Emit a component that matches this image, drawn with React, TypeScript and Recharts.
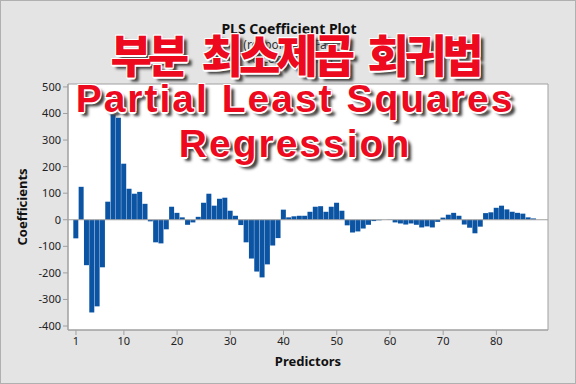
import { BarChart, Bar, XAxis, YAxis, CartesianGrid, ReferenceLine, ReferenceArea } from 'recharts'

// predictor index and PLS coefficients
const predictors = [
  1, 2, 3, 4, 5, 6, 7, 8, 9, 10, 11, 12, 13, 14, 15, 16, 17, 18, 19, 20,
  21, 22, 23, 24, 25, 26, 27, 28, 29, 30, 31, 32, 33, 34, 35, 36, 37, 38, 39, 40,
  41, 42, 43, 44, 45, 46, 47, 48, 49, 50, 51, 52, 53, 54, 55, 56, 57, 58, 59, 60,
  61, 62, 63, 64, 65, 66, 67, 68, 69, 70, 71, 72, 73, 74, 75, 76, 77, 78, 79, 80,
  81, 82, 83, 84, 85, 86, 87,
]
const coefficients = [
  -70, 124, -171, -349, -326, -179, 68, 396, 384, 211, 117, 98, 105, 60, -6, -85, -89, -36, 49, 26,
  9, -19, -10, 11, 64, 98, 53, 79, 83, 34, 15, -20, -85, -146, -195, -217, -168, -97, -69, 38,
  9, 13, 15, 15, 30, 49, 51, 30, 49, 64, 34, -21, -48, -44, -33, -19, -5, -2, 0, -1,
  -10, -14, -18, -14, -19, -29, -25, -29, -8, 8, 19, 26, 15, -18, -30, -51, -26, 25, 28, 45,
  53, 39, 30, 26, 23, 9, 5,
]
const xTicks = [1, 10, 20, 30, 40, 50, 60, 70, 80]
const yTicks = [-400, -300, -200, -100, 0, 100, 200, 300, 400, 500]

const table = predictors.map((p, i) => ({ p, coef: coefficients[i] }))

const X_DOMAIN: [number, number] = [-0.5, 89.7]
const Y_DOMAIN: [number, number] = [-415, 511]

const overlay: React.CSSProperties = {
  position: 'absolute', left: 0, width: 588, textAlign: 'center', whiteSpace: 'nowrap',
  color: '#ee0a1e', fontWeight: 'bold', lineHeight: 1,
  textShadow: '-1px -1px 0 #fff, 1px -1px 0 #fff, -1px 1px 0 #fff, 1px 1px 0 #fff, 0 -1.5px 0 #fff, 0 1.5px 0 #fff, 4px 4px 3px #3a3a3a',
}

export default function App() {
  const tick = { fill: '#222', fontSize: 11 }
  return (
    <div style={{ position: 'absolute', left: 0, top: 0, width: 576, height: 384, backgroundColor: '#e4e4e4',
      border: '1px solid #b0b0b0', boxSizing: 'border-box', fontFamily: "'Noto Sans', sans-serif", overflow: 'hidden' }}>
      <div style={{ position: 'absolute', left: -1, top: 0, width: 576 }}>
        <BarChart width={576} height={384} data={table} barCategoryGap={0}
          margin={{ top: 83, right: 28, bottom: 15, left: 8 }}>
          <CartesianGrid horizontal={false} vertical={false} fill="#fff" />
          <XAxis dataKey="p" type="number" domain={X_DOMAIN} ticks={xTicks} allowDataOverflow
            tick={tick} tickSize={5} axisLine={{ stroke: '#a0a0a0' }} tickLine={{ stroke: '#a0a0a0' }} height={40}
            label={{ value: 'Predictors', position: 'insideBottom', offset: 4, fill: '#111', fontSize: 13, fontWeight: 'bold' }} />
          <YAxis type="number" domain={Y_DOMAIN} ticks={yTicks} allowDataOverflow width={60}
            tick={tick} tickSize={5} axisLine={{ stroke: '#a0a0a0' }} tickLine={{ stroke: '#a0a0a0' }}
            label={{ value: 'Coefficients', angle: -90, position: 'insideLeft', offset: 14, fill: '#111', fontSize: 13, fontWeight: 'bold', style: { textAnchor: 'middle' } }} />
          <ReferenceArea x1={X_DOMAIN[0]} x2={X_DOMAIN[1]} y1={Y_DOMAIN[0]} y2={Y_DOMAIN[1]} fill="none" stroke="#a0a0a0" />
          <ReferenceLine y={0} stroke="#a0a0a0" />
          <Bar dataKey="coef" fill="#0b54a4" isAnimationActive={false} />
        </BarChart>
      </div>
      <div style={{ position: 'absolute', left: 0, top: 18, width: 576, textAlign: 'center', fontSize: 14, fontWeight: 'bold', color: '#111' }}>
        PLS Coefficient Plot
      </div>
      <div style={{ position: 'absolute', left: 0, top: 37, width: 576, textAlign: 'center', fontSize: 12, color: '#333', lineHeight: '14px' }}>
        (response is Fat)<br />10 components
      </div>
      <div style={{ ...overlay, top: 30, fontSize: 45, letterSpacing: -4, wordSpacing: 10, fontFamily: "'Noto Sans CJK KR', sans-serif", fontWeight: 900 }}>
        부분 최소제곱 회귀법
      </div>
      <div style={{ ...overlay, top: 78, fontSize: 39, letterSpacing: 2, fontFamily: "'Liberation Sans', Arial, sans-serif" }}>
        Partial Least Squares
      </div>
      <div style={{ ...overlay, top: 123, fontSize: 39, letterSpacing: 2, fontFamily: "'Liberation Sans', Arial, sans-serif" }}>
        Regression
      </div>
    </div>
  )
}
